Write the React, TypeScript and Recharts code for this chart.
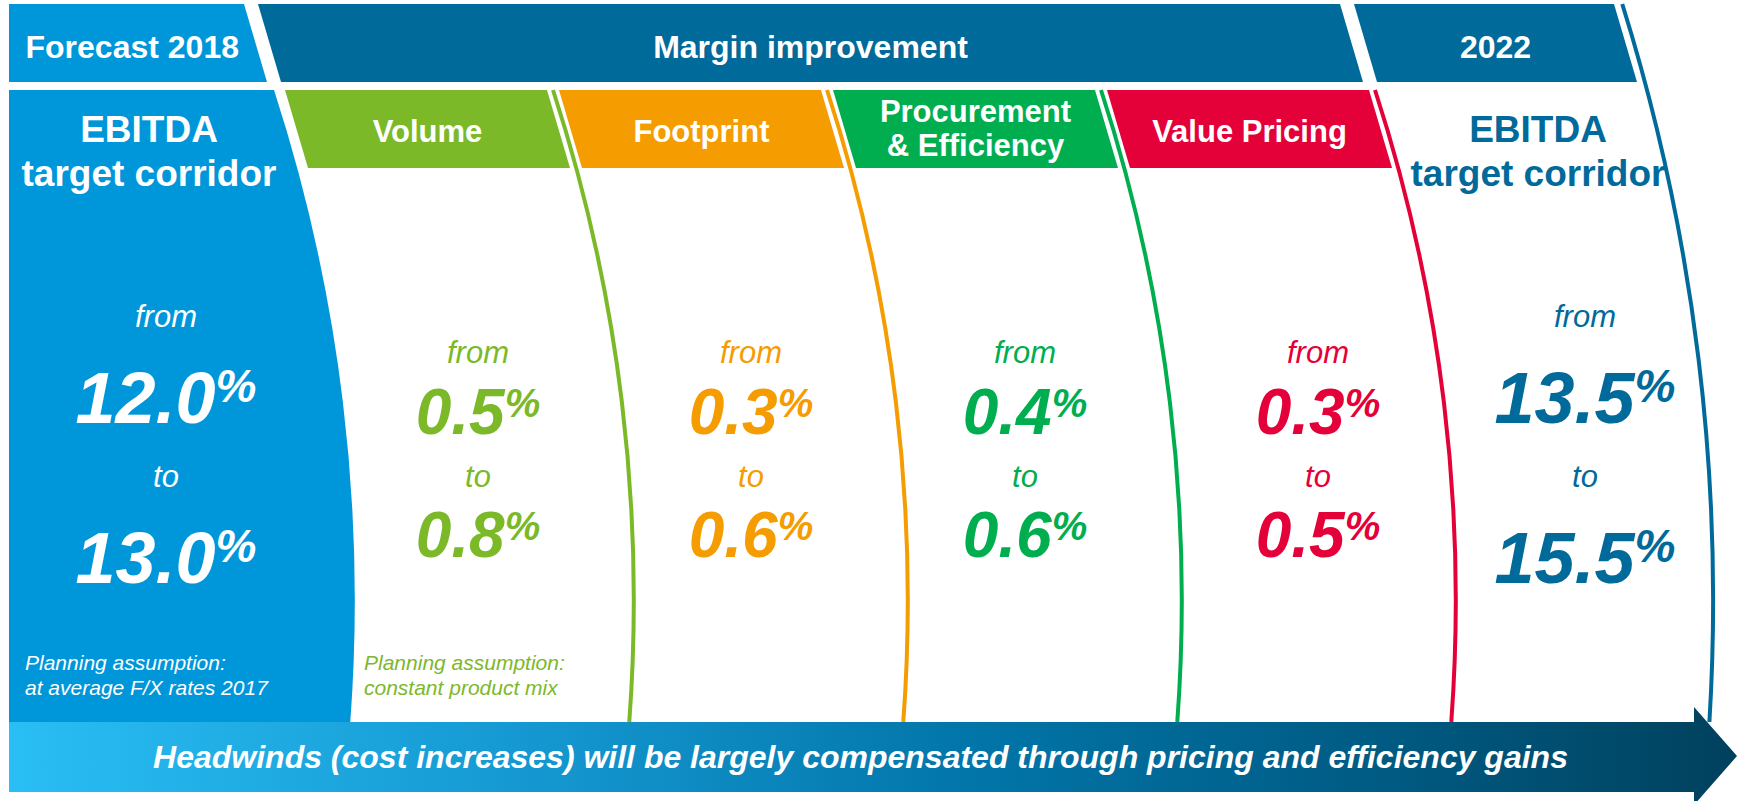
import React from 'react';
import { BarChart, Bar, XAxis, YAxis } from 'recharts';

// columns of the margin bridge, left to right
const columns = ['Forecast 2018', 'Volume', 'Footprint', 'Procurement & Efficiency', 'Value Pricing', '2022'];
const headerLines = [
  ['EBITDA', 'target corridor'],
  ['Volume'],
  ['Footprint'],
  ['Procurement', '& Efficiency'],
  ['Value Pricing'],
  ['EBITDA', 'target corridor'],
];
const fromValues = [12.0, 0.5, 0.3, 0.4, 0.3, 13.5];
const toValues = [13.0, 0.8, 0.6, 0.6, 0.5, 15.5];
const notes = [
  ['Planning assumption:', 'at average F/X rates 2017'],
  ['Planning assumption:', 'constant product mix'],
  [],
  [],
  [],
  [],
];
// top row: phase label and the columns it covers
const phases = ['Forecast 2018', 'Margin improvement', '2022'];
const phaseStart = [0, 1, 5];
const phaseEnd = [0, 4, 5];
const footer = 'Headwinds (cost increases) will be largely compensated through pricing and efficiency gains';

const data = columns.map((name, i) => ({ name, from: fromValues[i], to: toValues[i], span: 1 }));

const FONT = '"Liberation Sans", Arial, sans-serif';
const LIGHT_BLUE = '#0096DA';
const DARK_BLUE = '#006A9A';
const COLORS = [LIGHT_BLUE, '#7CB929', '#F59C00', '#00AE50', '#E40038', DARK_BLUE];
const TEXT_DX = [29, 67, 66, 66, 85, 78];

const ARC_Y = 600;
const arcX = (x90: number, r: number, y: number) =>
  x90 + Math.sqrt(r * r - (ARC_Y - y) ** 2) - Math.sqrt(r * r - (ARC_Y - 90) ** 2);
const arcPath = (x90: number, r: number, y1: number, y2: number) =>
  `M ${arcX(x90, r, y1)} ${y1} A ${r} ${r} 0 0 1 ${arcX(x90, r, y2)} ${y2}`;

const ColumnShape = (props: any) => {
  const { x, width, index } = props;
  const left = x;
  const right = x + width;
  const center = x + width / 2;
  const color = COLORS[index];
  const outer = index === 0 || index === 5;
  const textColor = index === 0 ? '#fff' : color;
  const cx = center + TEXT_DX[index];

  const p = phaseStart.indexOf(index);
  let phase = null;
  if (p >= 0) {
    const tl = index === 0 ? 9 : left - 16;
    const bl = index === 0 ? 9 : tl + 23;
    const tr = x + (phaseEnd[p] - index + 1) * width - 30;
    const br = tr + 23;
    phase = (
      <g>
        <polygon points={`${tl},4 ${tr},4 ${br},82 ${bl},82`} fill={p === 0 ? LIGHT_BLUE : DARK_BLUE} />
        <text x={(tl + bl + tr + br) / 4} y={58} textAnchor="middle" fill="#fff" fontFamily={FONT} fontWeight="bold" fontSize={32}>
          {phases[p]}
        </text>
      </g>
    );
  }

  let body = null;
  if (index === 0) {
    body = (
      <g>
        <path
          d={`M 9 90 L ${arcX(right, 1650, 90)} 90 A 1650 1650 0 0 1 ${arcX(right, 1650, 722)} 722 L 9 722 Z`}
          fill={LIGHT_BLUE}
        />
        {headerLines[index].map((t, k) => (
          <text key={k} x={center + 12} y={142 + k * 44} textAnchor="middle" fill="#fff" fontFamily={FONT} fontWeight="bold" fontSize={37}>
            {t}
          </text>
        ))}
      </g>
    );
  } else if (index === 5) {
    body = (
      <g>
        <path d={arcPath(right + 3, 2000, 4, 722)} fill="none" stroke={DARK_BLUE} strokeWidth={4} />
        {headerLines[index].map((t, k) => (
          <text key={k} x={center + 31} y={142 + k * 44} textAnchor="middle" fill={DARK_BLUE} fontFamily={FONT} fontWeight="bold" fontSize={37}>
            {t}
          </text>
        ))}
      </g>
    );
  } else {
    const hl = left + 11;
    const hr = right - 1;
    const lines = headerLines[index];
    const hx = (hl + hr) / 2 + 11.5;
    body = (
      <g>
        <polygon points={`${hl},90 ${hr},90 ${hr + 23},168 ${hl + 23},168`} fill={color} />
        <path d={arcPath(right + 5, 1650, 90, 722)} fill="none" stroke={color} strokeWidth={4} />
        {lines.map((t, k) => (
          <text
            key={k}
            x={hx}
            y={lines.length === 1 ? 142 : 122 + k * 34}
            textAnchor="middle"
            fill="#fff"
            fontFamily={FONT}
            fontWeight="bold"
            fontSize={31}
          >
            {t}
          </text>
        ))}
      </g>
    );
  }

  const big = outer ? 72 : 64;
  const pct = outer ? 46 : 40;
  const lift = outer ? 21 : 17;
  const rows = outer ? [327, 423, 487, 583] : [363, 434, 487, 557];
  const value = (v: number, y: number) => (
    <text x={cx} y={y} textAnchor="middle" fill={textColor} fontFamily={FONT} fontWeight="bold" fontStyle="italic" fontSize={big}>
      {v.toFixed(1)}
      <tspan fontSize={pct} dy={-lift}>%</tspan>
    </text>
  );
  const word = (w: string, y: number) => (
    <text x={cx} y={y} textAnchor="middle" fill={textColor} fontFamily={FONT} fontStyle="italic" fontSize={31}>
      {w}
    </text>
  );

  const noteX = index === 0 ? left + 25 : left + 90;

  let foot = null;
  if (index === columns.length - 1) {
    const start = 9;
    const neck = right + 50;
    const tip = right + 93;
    foot = (
      <g>
        <defs>
          <linearGradient id="footerFade" x1="0" y1="0" x2="1" y2="0">
            <stop offset="0%" stopColor="#29BEF4" />
            <stop offset="30%" stopColor="#1598D1" />
            <stop offset="55%" stopColor="#0276AA" />
            <stop offset="80%" stopColor="#005A82" />
            <stop offset="100%" stopColor="#00415D" />
          </linearGradient>
        </defs>
        <polygon
          points={`${start},722 ${neck},722 ${neck},707 ${tip},756 ${neck},805 ${neck},792 ${start},792`}
          fill="url(#footerFade)"
        />
        <text x={(start + neck) / 2 + 9} y={768} textAnchor="middle" fill="#fff" fontFamily={FONT} fontWeight="bold" fontStyle="italic" fontSize={32}>
          {footer}
        </text>
      </g>
    );
  }

  return (
    <g>
      {phase}
      {body}
      {word('from', rows[0])}
      {value(props.payload.from, rows[1])}
      {word('to', rows[2])}
      {value(props.payload.to, rows[3])}
      {notes[index].map((n, k) => (
        <text key={k} x={noteX} y={670 + k * 25} fill={textColor} fontFamily={FONT} fontStyle="italic" fontSize={21}>
          {n}
        </text>
      ))}
      {foot}
    </g>
  );
};

export default function App() {
  return (
    <div style={{ position: 'absolute', left: 0, top: 0, background: '#fff' }}>
      <BarChart width={1741} height={801} data={data} margin={{ top: 0, right: 97, bottom: 0, left: 0 }} barCategoryGap={0}>
        <XAxis dataKey="name" hide />
        <YAxis hide domain={[0, 1]} />
        <Bar dataKey="span" shape={ColumnShape} isAnimationActive={false} />
      </BarChart>
    </div>
  );
}
